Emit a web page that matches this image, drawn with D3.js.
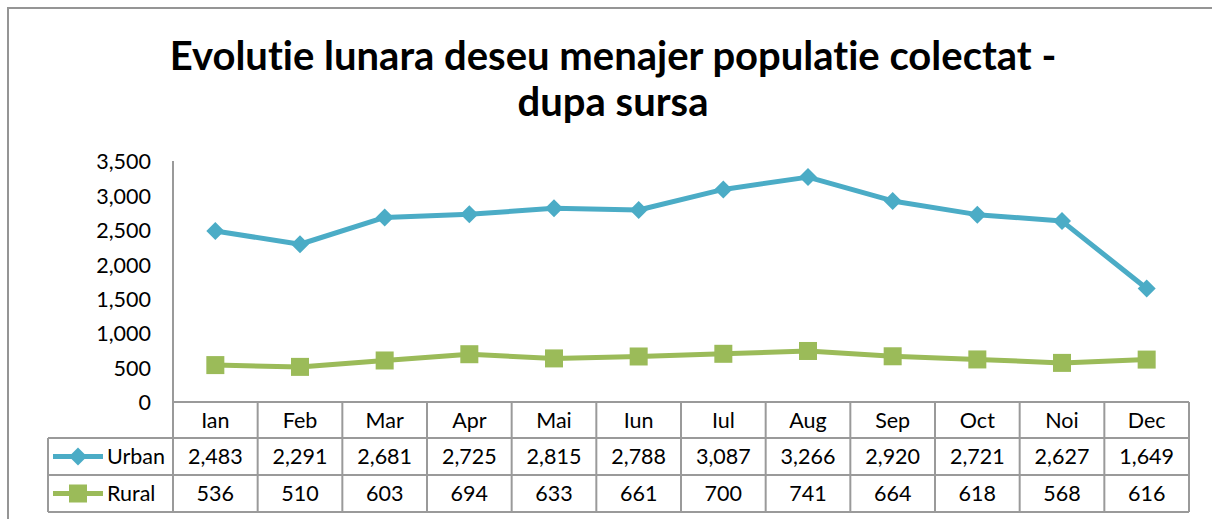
<!DOCTYPE html>
<html>
<head>
<meta charset="utf-8">
<script src="https://cdn.jsdelivr.net/npm/d3@7"></script>
<style>
  body { margin: 0; background: #fff; }
  text { font-family: Lato, "Open Sans", sans-serif; fill: #000; font-variant-ligatures: none; }
</style>
</head>
<body>
<div id="chart"></div>
<script>
// data
var months = ["Ian", "Feb", "Mar", "Apr", "Mai", "Iun", "Iul", "Aug", "Sep", "Oct", "Noi", "Dec"];
var urban = [2483, 2291, 2681, 2725, 2815, 2788, 3087, 3266, 2920, 2721, 2627, 1649];
var rural = [536, 510, 603, 694, 633, 661, 700, 741, 664, 618, 568, 616];
var yTicks = [0, 500, 1000, 1500, 2000, 2500, 3000, 3500];
var seriesNames = ["Urban", "Rural"];

var width = 1212,
  height = 519;
var plot = { left: 173, right: 1189, top: 161, bottom: 402 };
var rowH = [36, 37, 37]; // header, urban, rural
var legendLeft = 48;
var gridColor = "#9a9a9a";
var colors = { Urban: "#4bacc6", Rural: "#9bbb59" };
var fontSize = "21.5px";

var svg = d3
  .select("#chart")
  .append("svg")
  .attr("width", width)
  .attr("height", height);

// outer chart border (cropped on the right and bottom)
svg
  .append("rect")
  .attr("x", 8)
  .attr("y", 8)
  .attr("width", 1230)
  .attr("height", 540)
  .attr("fill", "none")
  .attr("stroke", "#959595")
  .attr("stroke-width", 2);

// title
var title = svg
  .append("text")
  .attr("text-anchor", "middle")
  .style("font-weight", "bold")
  .style("font-size", "40px");
title.append("tspan").attr("x", 613).attr("y", 70).text("Evolutie lunara deseu menajer populatie colectat -");
title.append("tspan").attr("x", 613).attr("y", 116).text("dupa sursa");

// scales
var x = d3.scaleBand().domain(months).range([plot.left, plot.right]).padding(0);
var y = d3.scaleLinear().domain([0, 3500]).range([plot.bottom, plot.top]);
var cx = function (m) {
  return x(m) + x.bandwidth() / 2;
};

// y axis
var yAxis = svg
  .append("g")
  .attr("transform", "translate(" + plot.left + ",0)")
  .call(d3.axisLeft(y).tickValues(yTicks).tickSize(0).tickPadding(22).tickFormat(d3.format(",")));
yAxis.select(".domain").remove();
yAxis.selectAll("text").style("font-size", fontSize).attr("dy", "0.36em");

// table rows
var rowTop = [plot.bottom, plot.bottom + rowH[0], plot.bottom + rowH[0] + rowH[1]];
var tableBottom = rowTop[2] + rowH[2];
var grid = svg.append("g").attr("stroke", gridColor).attr("stroke-width", 2).attr("fill", "none");

// vertical axis line runs through the table
grid.append("line").attr("x1", plot.left).attr("x2", plot.left).attr("y1", plot.top).attr("y2", tableBottom);
// column separators
months.forEach(function (m) {
  grid
    .append("line")
    .attr("x1", x(m) + x.bandwidth())
    .attr("x2", x(m) + x.bandwidth())
    .attr("y1", plot.bottom)
    .attr("y2", tableBottom);
});
// horizontal lines
grid.append("line").attr("x1", plot.left).attr("x2", plot.right).attr("y1", rowTop[0]).attr("y2", rowTop[0]);
[rowTop[1], rowTop[2], tableBottom].forEach(function (yy) {
  grid.append("line").attr("x1", legendLeft).attr("x2", plot.right).attr("y1", yy).attr("y2", yy);
});
grid.append("line").attr("x1", legendLeft).attr("x2", legendLeft).attr("y1", rowTop[1]).attr("y2", tableBottom);

// header labels
svg
  .append("g")
  .selectAll("text")
  .data(months)
  .enter()
  .append("text")
  .attr("x", cx)
  .attr("y", rowTop[0] + rowH[0] / 2)
  .attr("dy", "0.36em")
  .attr("text-anchor", "middle")
  .style("font-size", fontSize)
  .text(function (d) {
    return d;
  });

// value cells
var fmt = d3.format(",");
[urban, rural].forEach(function (vals, r) {
  svg
    .append("g")
    .selectAll("text")
    .data(vals)
    .enter()
    .append("text")
    .attr("x", function (d, i) {
      return cx(months[i]);
    })
    .attr("y", rowTop[r + 1] + rowH[r + 1] / 2)
    .attr("dy", "0.36em")
    .attr("text-anchor", "middle")
    .style("font-size", fontSize)
    .text(function (d) {
      return fmt(d);
    });
});

// lines
var line = d3
  .line()
  .x(function (d, i) {
    return cx(months[i]);
  })
  .y(function (d) {
    return y(d);
  });

function diamond(g, px, py, s) {
  g.append("path")
    .attr("d", "M" + px + "," + (py - s) + "L" + (px + s) + "," + py + "L" + px + "," + (py + s) + "L" + (px - s) + "," + py + "Z")
    .attr("fill", colors.Urban);
}
function square(g, px, py, s) {
  g.append("rect")
    .attr("x", px - s)
    .attr("y", py - s)
    .attr("width", 2 * s)
    .attr("height", 2 * s)
    .attr("fill", colors.Rural);
}

[urban, rural].forEach(function (vals, r) {
  var name = seriesNames[r];
  svg
    .append("path")
    .datum(vals)
    .attr("d", line)
    .attr("fill", "none")
    .attr("stroke", colors[name])
    .attr("stroke-width", 5)
    .attr("stroke-linejoin", "round");
  var mg = svg.append("g");
  vals.forEach(function (v, i) {
    if (r === 0) diamond(mg, cx(months[i]), y(v), 9);
    else square(mg, cx(months[i]), y(v), 9);
  });
});

// legend keys inside the table
seriesNames.forEach(function (name, r) {
  var ly = rowTop[r + 1] + rowH[r + 1] / 2;
  var g = svg.append("g");
  g.append("line")
    .attr("x1", 53)
    .attr("x2", 103)
    .attr("y1", ly)
    .attr("y2", ly)
    .attr("stroke", colors[name])
    .attr("stroke-width", 5);
  if (r === 0) diamond(g, 78, ly, 9);
  else square(g, 78, ly, 9);
  g.append("text")
    .attr("x", 107)
    .attr("y", ly)
    .attr("dy", "0.36em")
    .style("font-size", fontSize)
    .text(name);
});
</script>
</body>
</html>
